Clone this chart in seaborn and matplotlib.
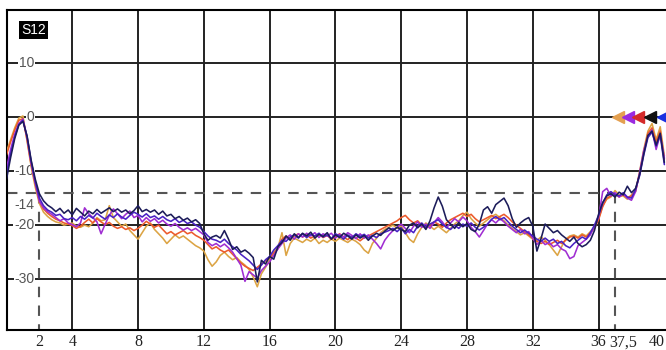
import numpy as np
import pandas as pd
import matplotlib
matplotlib.use('Agg')
import matplotlib.pyplot as plt
import seaborn as sns

# frequency grid (GHz), one sample every 0.25
freq = np.arange(161) * 0.25

# S12 traces (dB)
s12_orange = [
    -6.4, -4.2, -2.0, -0.2, 0.2, -4.4, -9.2, -13.0, -16.0, -17.6, -18.4, -19.0, -19.4, -19.6, -20.0, -19.8,
    -19.6, -20.2, -20.4, -20.0, -20.3, -19.6, -18.6, -19.2, -19.0, -16.4, -18.6, -19.4, -20.2, -19.8, -21.0, -21.8,
    -22.6, -21.4, -20.2, -19.6, -20.8, -21.6, -22.4, -23.4, -22.6, -21.8, -22.4, -22.0, -22.6, -23.2, -23.8, -24.2,
    -24.8, -26.4, -27.6, -26.8, -25.6, -25.0, -25.8, -26.4, -26.0, -26.8, -27.4, -28.2, -29.6, -31.4, -29.0, -27.8,
    -26.4, -25.0, -24.2, -21.4, -25.6, -23.4, -22.4, -22.8, -23.2, -22.6, -23.0, -22.4, -23.4, -22.8, -23.2, -22.6,
    -23.0, -22.4, -22.8, -23.2, -22.6, -23.0, -23.6, -24.6, -25.2, -23.4, -22.4, -21.4, -20.8, -20.4, -20.0, -20.6,
    -20.2, -21.4, -22.6, -23.2, -21.6, -20.4, -19.6, -20.2, -20.8, -20.2, -20.8, -21.4, -20.6, -19.8, -19.2, -18.2,
    -17.6, -18.8, -19.6, -20.2, -19.6, -19.0, -18.4, -18.0, -18.6, -19.2, -20.0, -20.6, -21.2, -21.8, -21.4, -22.0,
    -22.6, -22.8, -22.2, -22.8, -23.6, -24.6, -25.6, -24.0, -22.6, -22.0, -21.8, -22.2, -21.6, -22.0, -21.2, -20.4,
    -18.8, -16.4, -15.2, -14.8, -13.6, -14.4, -14.6, -15.2, -14.4, -13.8, -10.0, -6.0, -2.6, -1.2, -4.2, -1.8,
    -7.2]
s12_red = [
    -7.0, -4.6, -2.4, -0.6, -0.3, -4.2, -8.8, -12.4, -15.6, -17.0, -17.8, -18.4, -18.9, -19.2, -19.6, -19.8,
    -20.1, -20.6, -20.2, -19.5, -18.9, -19.6, -18.8, -19.4, -19.9, -19.5, -20.2, -20.6, -20.3, -20.8, -20.5, -21.0,
    -20.6, -20.0, -19.3, -19.8, -20.4, -20.0, -20.8, -21.6, -21.2, -21.8, -21.4, -21.0, -21.6, -21.3, -21.9, -22.3,
    -22.8, -23.6, -24.4, -24.0, -24.6, -25.0, -24.6, -25.4, -26.2, -27.0, -27.6, -28.0, -28.4, -27.8, -27.2, -26.6,
    -26.0, -25.2, -24.4, -22.6, -22.0, -22.6, -22.0, -21.6, -22.2, -21.8, -22.4, -22.0, -21.7, -22.3, -21.9, -22.6,
    -22.2, -21.6, -22.2, -22.7, -22.0, -22.4, -22.9, -22.3, -22.0, -21.6, -21.2, -20.8, -20.4, -20.0, -19.6, -19.2,
    -18.6, -18.2, -19.0, -19.6, -19.2, -20.0, -20.6, -20.0, -19.4, -19.8, -20.4, -19.6, -19.0, -18.6, -18.2, -17.8,
    -18.4, -18.0, -18.8, -19.4, -19.0, -18.6, -18.2, -18.8, -18.4, -18.0, -18.6, -19.4, -20.0, -20.6, -21.2, -21.8,
    -22.4, -23.0, -23.4, -23.0, -23.6, -23.2, -22.8, -23.4, -22.8, -22.2, -22.0, -22.4, -21.8, -22.2, -21.4, -20.6,
    -19.0, -16.6, -15.0, -14.6, -14.2, -14.8, -14.4, -14.9, -14.6, -13.6, -10.4, -6.4, -3.0, -2.0, -4.6, -2.6,
    -7.8]
s12_purple = [
    -9.5, -6.0, -3.2, -1.2, -0.4, -3.8, -8.6, -12.2, -15.6, -16.8, -17.5, -18.0, -18.6, -19.2, -18.8, -19.6,
    -19.9, -20.3, -19.6, -16.8, -17.9, -18.6, -19.4, -21.6, -19.8, -18.2, -17.0, -17.9, -18.8, -18.0, -17.4, -18.6,
    -18.2, -19.4, -18.6, -19.3, -18.8, -19.6, -19.1, -19.8, -20.2, -19.7, -20.4, -20.9, -20.5, -21.0, -20.6, -21.2,
    -21.8, -23.2, -23.8, -23.4, -24.0, -23.5, -24.2, -25.0, -26.2, -27.4, -30.4, -28.6, -29.2, -29.8, -28.4, -27.6,
    -26.8, -25.6, -24.4, -23.4, -22.4, -21.8, -22.6, -21.6, -22.2, -21.5, -22.0, -21.4, -22.3, -21.6, -22.0, -21.5,
    -22.4, -21.7, -22.2, -21.4, -21.9, -22.5, -21.6, -22.4, -21.8, -22.6, -23.4, -24.4, -22.8, -21.8, -21.0, -20.4,
    -19.8, -20.6, -21.4, -20.2, -19.4, -20.4, -19.8, -20.6, -19.5, -18.6, -19.4, -20.5, -19.6, -18.8, -19.4, -18.5,
    -19.2, -20.4, -21.2, -22.2, -21.0, -19.8, -19.0, -19.6, -18.8, -19.4, -20.2, -20.8, -21.4, -20.8, -21.6, -21.2,
    -22.4, -23.6, -22.8, -23.6, -23.2, -24.0, -23.6, -24.4, -24.8, -26.2, -25.8, -23.8, -23.2, -22.6, -21.8, -20.2,
    -18.6, -13.8, -13.2, -14.6, -14.0, -14.8, -14.2, -15.0, -15.4, -13.8, -10.2, -6.2, -3.6, -2.4, -6.0, -3.2,
    -7.6]
s12_blue = [
    -10.5, -6.8, -3.6, -1.4, -0.6, -3.6, -8.2, -12.0, -15.0, -16.4, -17.2, -17.6, -18.2, -18.0, -18.8, -19.0,
    -18.6, -19.2, -18.4, -18.9, -18.2, -18.7, -17.8, -18.4, -18.9, -18.1, -18.6, -17.9, -18.5, -18.9, -18.2, -17.6,
    -18.0, -18.5, -17.9, -18.6, -18.3, -18.9, -18.4, -19.0, -19.3, -18.8, -19.5, -19.1, -19.7, -19.4, -20.0, -20.4,
    -21.2, -22.0, -22.6, -22.8, -23.2, -22.6, -23.4, -24.0, -24.6, -25.4, -26.0, -26.6, -27.4, -28.2, -27.4, -26.4,
    -25.8, -24.6, -23.8, -22.8, -23.0, -22.2, -21.8, -22.4, -21.6, -22.3, -21.7, -22.0, -21.5, -22.2, -21.8, -22.5,
    -21.6, -22.0, -22.6, -21.8, -22.3, -21.6, -22.1, -21.7, -22.4, -21.9, -22.3, -21.6, -21.3, -21.0, -20.6, -21.2,
    -20.5, -21.6, -20.8, -21.4, -20.2, -19.6, -20.4, -19.8, -19.4, -19.0, -19.8, -20.4, -20.8, -20.0, -20.6, -19.8,
    -20.2, -19.6, -20.4, -20.9, -20.4, -19.8, -18.9, -18.4, -19.0, -18.6, -19.4, -20.2, -20.8, -21.4, -20.9, -21.5,
    -22.0, -22.6, -23.0, -22.4, -23.0, -22.6, -23.4, -23.0, -23.8, -24.2, -23.4, -22.8, -22.2, -22.6, -21.4, -20.0,
    -18.2, -16.0, -14.4, -13.8, -14.4, -14.6, -14.0, -14.8, -15.0, -13.4, -10.8, -7.0, -3.8, -2.8, -5.4, -3.4,
    -8.8]
s12_black = [
    -11.5, -7.5, -4.0, -1.5, -0.8, -3.5, -8.0, -11.5, -14.2, -15.5, -16.3, -16.8, -17.5, -16.9, -17.8, -17.2,
    -18.1, -16.9, -17.6, -18.3, -17.4, -17.9, -17.1, -17.8, -17.3, -16.8, -17.5, -17.0, -17.6, -17.2, -17.9, -17.3,
    -16.4, -17.5, -17.1, -17.6, -17.2, -18.0, -17.4, -18.3, -18.0, -18.8, -18.4, -19.1, -18.7, -19.4, -19.0, -19.7,
    -21.6, -22.8, -22.2, -21.9, -22.4, -21.0, -22.6, -24.5, -24.0, -25.0, -24.6, -25.2, -26.0, -30.5, -26.5, -27.2,
    -25.8, -26.3, -24.0, -23.2, -22.0, -22.8, -21.6, -22.3, -21.5, -22.0, -21.3, -22.4, -21.7, -22.1, -21.4, -22.6,
    -21.8, -22.3, -21.5, -22.0, -22.6, -21.8, -22.4, -21.9, -22.8, -22.0, -21.5, -21.9, -21.1, -20.5, -21.0, -20.4,
    -20.8, -21.2, -20.0, -19.6, -20.5, -19.8, -20.8, -19.2, -16.8, -14.8, -16.5, -19.0, -19.8, -20.6, -19.5, -20.3,
    -19.7, -20.8, -21.2, -19.8, -17.2, -16.6, -17.8, -16.2, -15.6, -15.0, -16.4, -18.8, -20.4, -19.6, -19.0, -18.6,
    -20.2, -24.8, -22.5, -19.8, -20.6, -21.4, -21.0, -21.8, -22.4, -23.0, -22.2, -23.4, -24.0, -23.6, -22.8, -21.0,
    -18.0, -15.8, -14.6, -14.2, -14.8, -13.9, -14.4, -12.8, -14.0, -13.2, -10.6, -6.8, -3.4, -2.6, -5.2, -3.0,
    -8.4]

traces = ['orange', 'red', 'purple', 'blue', 'black']
line_colors = {'orange': '#dca444', 'red': '#ec5a2c', 'purple': '#a02ed2',
               'blue': '#4a22c4', 'black': '#1c1c5a'}
marker_colors = ['#e4a050', '#9a2ae0', '#d42a2a', '#111111', '#1a30e0']
marker_x = [37.2, 37.8, 38.4, 39.1, 39.9]

# y labels written inside the plot
ylab_vals = [10, 0, -10, -20, -30]
xtick_vals = [2, 4, 8, 12, 16, 20, 24, 28, 32, 36, 37.5, 40]
xtick_text = ['2', '4', '8', '12', '16', '20', '24', '28', '32', '36', '37,5', '40']
grid_x = [4, 8, 12, 16, 20, 24, 28, 32, 36]
limit_db = -14
limit_lo, limit_hi = 2, 37

df = pd.DataFrame({
    'freq': np.tile(freq, len(traces)),
    's12': np.concatenate([s12_orange, s12_red, s12_purple, s12_blue, s12_black]),
    'trace': np.repeat(traces, len(freq)),
})

sns.set_style('white')
fig = plt.figure(figsize=(6.66, 3.5), dpi=100)
ax = fig.add_axes([6.5 / 666, 20 / 350, 659.5 / 666, 320 / 350])

# grid
for gx in grid_x:
    ax.axvline(gx, color='#222222', lw=1.4, zorder=1)
for gy in ylab_vals:
    ax.axhline(gy, color='#222222', lw=1.4, zorder=1)

# limit lines (dashed)
ax.plot([0, limit_hi], [limit_db, limit_db], color='#555555', lw=1.5,
        dashes=(5, 4), zorder=2)
ax.plot([limit_lo, limit_lo], [limit_db, -40], color='#555555', lw=1.5,
        dashes=(5, 4), zorder=2)
ax.plot([limit_hi, limit_hi], [limit_db, -40], color='#555555', lw=1.5,
        dashes=(5, 4), zorder=2)

# y labels on white boxes
for v in ylab_vals:
    ax.text(1.7, v, str(v), ha='right', va='center', fontsize=10, color='#555555',
            family='Liberation Sans', zorder=3,
            bbox=dict(facecolor='white', edgecolor='none', pad=0.6))
ax.text(1.7, -16.2, str(limit_db), ha='right', va='center', fontsize=10,
        color='#555555', family='Liberation Sans', zorder=3,
        bbox=dict(facecolor='white', edgecolor='none', pad=0.6))

sns.lineplot(data=df, x='freq', y='s12', hue='trace', hue_order=traces,
             palette=line_colors, estimator=None, sort=False, legend=False,
             lw=1.15, ax=ax, zorder=4)

# trace markers
for mx, mc in zip(marker_x, marker_colors):
    ax.plot(mx, 0, marker='<', ms=8.5, color=mc, mec=mc, zorder=6, clip_on=False)

ax.text(1.65, 16.1, 'S12', ha='center', va='center', fontsize=10, color='white',
        family='Liberation Sans', zorder=6,
        bbox=dict(facecolor='black', edgecolor='none', pad=1.5))

ax.set_xlim(0, 40.1)
ax.set_ylim(-39.4, 19.8)
ax.set_xticks(xtick_vals)
ax.set_xticklabels(xtick_text, family='Liberation Serif', fontsize=11.5, color='#222222')
# last label sits at the right edge, keep it inside the picture
ax.get_xticklabels()[-1].set_horizontalalignment('right')
ax.set_yticks([])
ax.tick_params(axis='x', length=0, pad=3)
ax.set_xlabel('')
ax.set_ylabel('')
for side in ['left', 'top', 'bottom']:
    ax.spines[side].set_color('black')
    ax.spines[side].set_linewidth(1.5)
ax.spines['right'].set_visible(False)

fig.savefig('out.png', dpi=100, facecolor='white')
